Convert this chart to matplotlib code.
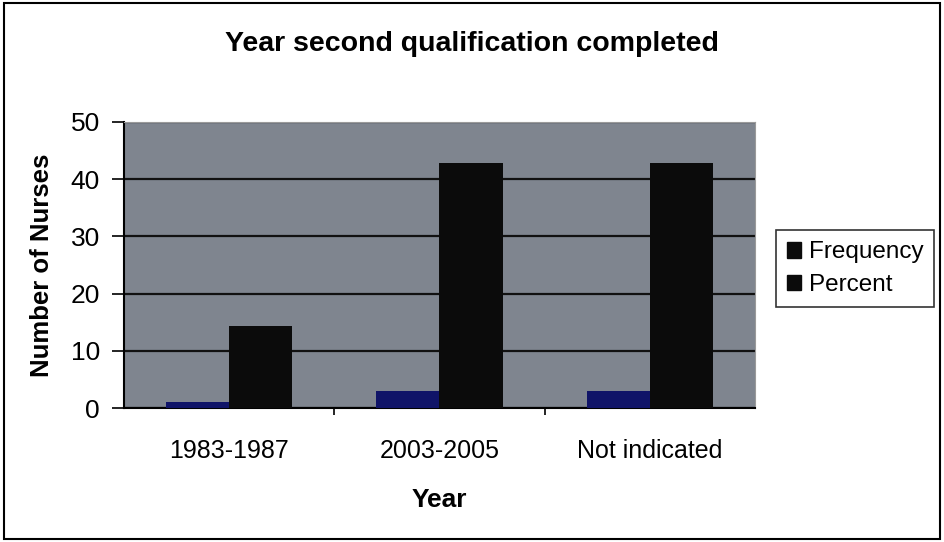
import numpy as np
import matplotlib.pyplot as plt
from matplotlib.patches import Patch, Rectangle

plt.rcParams['font.family'] = ['Liberation Sans', 'DejaVu Sans']

# Datos
categorias = ['1983-1987', '2003-2005', 'Not indicated']
frecuencia = [1, 3, 3]
porcentaje = [14.3, 42.9, 42.9]

fig = plt.figure(figsize=(9.44, 5.42), dpi=100)
ax = fig.add_axes([0.131, 0.247, 0.669, 0.528])

x = np.arange(len(categorias))
ancho = 0.3
ax.bar(x - ancho / 2, frecuencia, ancho, color='#101468', zorder=3)
ax.bar(x + ancho / 2, porcentaje, ancho, color='#0b0b0b', zorder=3)

ax.set_facecolor('#7f858f')
ax.set_xlim(-0.5, 2.5)
ax.set_ylim(0, 50)
ax.set_yticks([0, 10, 20, 30, 40, 50])
ax.yaxis.grid(True, color='#111111', linewidth=1.6, zorder=1)
ax.set_xticks(x)
ax.set_xticklabels(categorias, fontsize=18)
ax.tick_params(axis='x', length=0, pad=22)
ax.set_xticks([0.5, 1.5], minor=True)
ax.tick_params(axis='x', which='minor', length=5, width=1.2)
ax.tick_params(axis='y', labelsize=19, length=9, width=1.2, pad=8)

for lado in ['top', 'right']:
    ax.spines[lado].set_color('#9a9a9a')
ax.spines['left'].set_linewidth(1.5)
ax.spines['bottom'].set_linewidth(1.5)

ax.set_xlabel('Year', fontsize=19, fontweight='bold', labelpad=18)
ax.set_ylabel('Number of Nurses', fontsize=18.5, fontweight='bold', labelpad=12)
fig.suptitle('Year second qualification completed', fontsize=20.5, fontweight='bold', y=0.942)

handles = [Patch(color='#0b0b0b'), Patch(color='#0b0b0b')]
leg = fig.legend(handles, ['Frequency', 'Percent'], loc='center left',
                 bbox_to_anchor=(0.822, 0.504), fontsize=17.5, frameon=True,
                 fancybox=False, edgecolor='black', handlelength=0.6,
                 handleheight=0.6, handletextpad=0.3, borderpad=0.45,
                 labelspacing=0.45, borderaxespad=0)
leg.get_frame().set_linewidth(1.2)

# Marco exterior
fig.patches.append(Rectangle((0.004, 0.006), 0.992, 0.988, transform=fig.transFigure,
                             fill=False, edgecolor='black', linewidth=1.5))

plt.savefig('out.png', dpi=100)
